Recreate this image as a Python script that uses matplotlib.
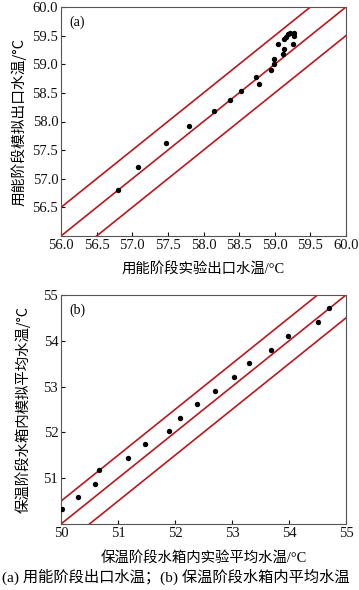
import matplotlib
matplotlib.use("Agg")
import matplotlib.pyplot as plt
import numpy as np

plt.rcParams['font.family'] = ['Liberation Serif', 'Noto Sans CJK SC', 'DejaVu Sans']

# Panel (a) data
a_exp = [56.80, 57.08, 57.48, 57.80, 58.15, 58.37, 58.53, 58.74, 58.78, 58.95, 58.99,
         58.99, 59.04, 59.11, 59.13, 59.13, 59.16, 59.18, 59.21, 59.25, 59.27, 59.27]
a_sim = [56.80, 57.21, 57.62, 57.93, 58.18, 58.37, 58.53, 58.78, 58.66, 58.90, 59.09,
         59.00, 59.35, 59.18, 59.26, 59.44, 59.48, 59.52, 59.54, 59.35, 59.54, 59.49]
a_ticks = [56.0, 56.5, 57.0, 57.5, 58.0, 58.5, 59.0, 59.5, 60.0]
a_lim = (56.0, 60.0)

# Panel (b) data
b_exp = [50.02, 50.30, 50.60, 50.67, 51.18, 51.47, 51.90, 52.09, 52.39, 52.71,
         53.04, 53.29, 53.68, 53.99, 54.50, 54.71]
b_sim = [50.33, 50.60, 50.88, 51.17, 51.45, 51.74, 52.03, 52.32, 52.61, 52.91,
         53.21, 53.52, 53.81, 54.11, 54.42, 54.72]
b_ticks = [50, 51, 52, 53, 54, 55]
b_lim = (50, 55)

band = 0.5  # error band offsets

a_xlabel = "用能阶段实验出口水温/°C"
a_ylabel = "用能阶段模拟出口水温/°C"
b_xlabel = "保温阶段水箱内实验平均水温/°C"
b_ylabel = "保温阶段水箱内模拟平均水温/°C"
caption = "(a) 用能阶段出口水温；(b) 保温阶段水箱内平均水温"

red = "#bb171d"
cjk = ['Noto Sans CJK SC', 'DejaVu Sans']
serif_cjk = ['Liberation Serif', 'Noto Sans CJK SC']

fig = plt.figure(figsize=(3.59, 5.90), dpi=100)
W, H = 359, 590

def make_ax(l, r, t, b):
    return fig.add_axes([l / W, 1 - b / H, (r - l) / W, (b - t) / H])

axa = make_ax(61, 346, 7, 236)
axb = make_ax(61, 346, 295, 524)

def draw(ax, xe, ys, lim, ticks, lab, fmt):
    xx = np.array([lim[0] - 1, lim[1] + 1])
    for off in (band, 0, -band):
        ax.plot(xx, xx + off, color=red, lw=1.2, zorder=2)
    ax.scatter(xe, ys, s=15, color='black', zorder=3, linewidths=0)
    ax.set_xlim(lim)
    ax.set_ylim(lim)
    ax.set_xticks(ticks)
    ax.set_yticks(ticks)
    ax.set_xticklabels([fmt.format(t) for t in ticks])
    ylabels = [fmt.format(t) for t in ticks]
    ylabels[0] = ""
    ax.set_yticklabels(ylabels)
    ax.tick_params(direction='in', length=3, width=0.8, labelsize=10.5, colors='#111111',
                   pad=2)
    for s in ax.spines.values():
        s.set_color('#555555')
        s.set_linewidth(0.8)
    ax.text(0.03, 0.935, lab, transform=ax.transAxes, fontsize=10, ha='left', va='center',
            family='Liberation Serif')

draw(axa, a_exp, a_sim, a_lim, a_ticks, "(a)", "{:.1f}")
draw(axb, b_exp, b_sim, b_lim, b_ticks, "(b)", "{:d}")

axa.set_xlabel(a_xlabel, fontsize=10.4, family=serif_cjk, labelpad=7)
axa.set_ylabel(a_ylabel, fontsize=10.6, family=cjk, labelpad=4)
axb.set_xlabel(b_xlabel, fontsize=10.4, family=serif_cjk, labelpad=8)
axb.set_ylabel(b_ylabel, fontsize=10.4, family=cjk, labelpad=9)

fig.text(176 / W, 1 - 577 / H, caption, fontsize=11, ha='center', va='center',
         family=serif_cjk)

fig.savefig("out.png", dpi=100)
